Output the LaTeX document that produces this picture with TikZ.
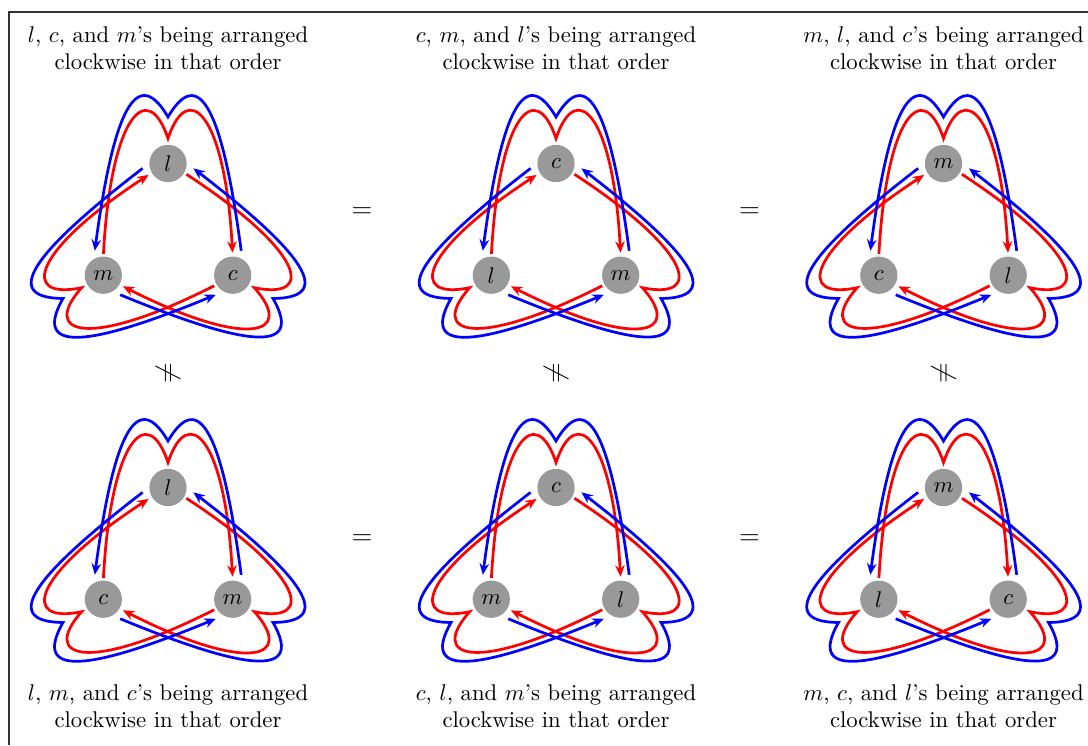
\documentclass[tikz,border=0pt]{standalone}
\usetikzlibrary{arrows.meta, calc}
\tikzset{vertex/.style={circle,fill=black!40,minimum size=16.4pt,inner sep=0pt},
  redarc/.style={red,very thick,-{Stealth[length=5pt,width=4.2pt]},shorten <=1pt,shorten >=1.5pt},
  bluearc/.style={blue,very thick,-{Stealth[length=5pt,width=4.2pt]},shorten <=3.5pt,shorten >=3.5pt},
  caption/.style={align=center,inner sep=0pt}}

\begin{document}
\begin{tikzpicture}[x=0.44pt,y=0.44pt]
\useasboundingbox (0,0) rectangle (1088,745);
\draw[black!80,line width=0.6pt] (9,0) -- (9,733) -- (1088,733);

% the six triangles
\foreach \i/\cx/\cy/\ta/\la/\ra in {1/168/507/l/m/c, 2/556/507/c/l/m, 3/943.5/507/m/c/l,
                                   4/168/183/l/c/m, 5/556/183/c/m/l, 6/943.5/183/m/l/c} {
  \node[vertex] (top\i) at (\cx,\cy+74.5) {$\ta$};
  \node[vertex] (bl\i) at (\cx-64.7,\cy-37.2) {$\la$};
  \node[vertex] (br\i) at (\cx+64.7,\cy-37.2) {$\ra$};
  % inner (red) loops
  \foreach \f/\v/\e/\rot in {bl/top/br/0, top/br/bl/-120, br/bl/top/120} {
    \pgfmathtruncatemacro\angR{90+(\rot)}
    \draw[redarc] (\f\i.\angR) .. controls +({86.9+(\rot)}:142.9) and +({108.4+(\rot)}:63.2)
      .. ($(\v\i)+({90+(\rot)}:25)$) .. controls +({71.6+(\rot)}:63.2) and +({93.1+(\rot)}:142.9) .. (\e\i.\angR);
  }
  % outer (blue) loops
  \foreach \f/\v/\e/\rot in {br/top/bl/0, bl/br/top/-120, top/bl/br/120} {
    \pgfmathtruncatemacro\angS{60+(\rot)}
    \pgfmathtruncatemacro\angE{120+(\rot)}
    \draw[bluearc] (\f\i.\angS) .. controls +({97.6+(\rot)}:130) and +({59.7+(\rot)}:69.5)
      .. ($(\v\i)+({90+(\rot)}:46.5)$) .. controls +({120.3+(\rot)}:69.5) and +({82.4+(\rot)}:130) .. (\e\i.\angE);
  }
}

% captions
\foreach \c/\cx/\p/\q/\s in {1/168/l/c/m, 2/556/c/m/l, 3/943.5/m/l/c}
  \node[caption] (head\c) at (\cx,697) {$\p$, $\q$, and $\s$'s being arranged\\clockwise in that order};
\foreach \c/\cx/\p/\q/\s in {1/168/l/m/c, 2/556/c/l/m, 3/943.5/m/c/l}
  \node[caption] (foot\c) at (\cx,39) {$\p$, $\q$, and $\s$'s being arranged\\clockwise in that order};

% relations
\node (eqa) at (362,532) {\large$=$};
\node (eqb) at (749.5,532) {\large$=$};
\node (eqc) at (362,205) {\large$=$};
\node (eqd) at (749.5,205) {\large$=$};
\node[rotate=90] (nea) at (168,372) {\large$\neq$};
\node[rotate=90] (neb) at (556,372) {\large$\neq$};
\node[rotate=90] (nec) at (943.5,372) {\large$\neq$};
\end{tikzpicture}
\end{document}
